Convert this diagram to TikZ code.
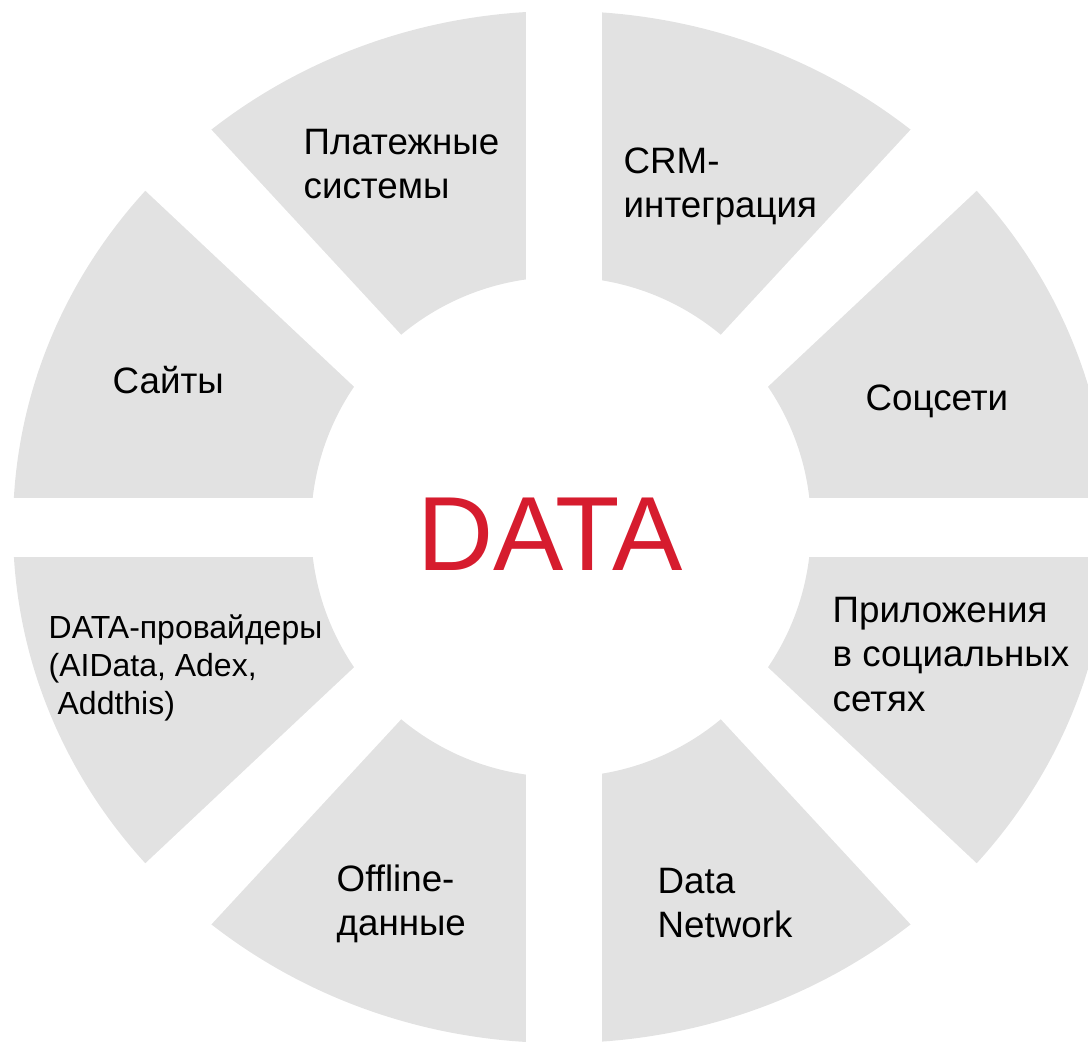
\documentclass[tikz,border=0pt]{standalone}
\usepackage{fontspec}
\setmainfont{Liberation Sans}
\definecolor{segfill}{RGB}{226,226,226}
\definecolor{datared}{RGB}{214,28,46}
\begin{document}
	\begin{tikzpicture}[line join=round, font=\fontsize{10.45}{12.7}\selectfont,
		lbl/.style={anchor=base west, align=left, inner sep=0pt}]
			\def\rin{2.5} \def\rx{5.48} \def\ry{5.16} % радиусы кольца
			\useasboundingbox (-5.61,-5.14) rectangle (5.27,5.27);
			\clip (-5.61,-5.14) rectangle (5.27,5.27);
			\fill[segfill, even odd rule] (0,0) ellipse [x radius=\rx, y radius=\ry] (0,0) circle [radius=\rin];
			\fill[white] (-0.35,-5.4) rectangle (0.405,5.4);%вертикальный зазор
			\fill[white] (-5.7,-0.30) rectangle (5.4,0.295);%горизонтальный зазор
			\foreach \sx/\sy in {1/1,-1/1,-1/-1,1/-1}{
				\fill[white] (\sx*1.06,\sy*1.34)--(\sx*3.91,\sy*4.42)--(\sx*4.60,\sy*3.78)--(\sx*1.49,\sy*0.86)--cycle;%диагонали
			}
			% подписи: точка = база последней строки
			\node[lbl] (pay) at (-2.58,3.283) {Платежные\\системы};
			\node[lbl] (crm) at (0.62,3.093) {CRM-\\интеграция};
			\node[lbl] (sites) at (-4.49,1.34) {Сайты};
			\node[lbl] (social) at (3.04,1.17) {Соцсети};
			\node[lbl] (apps) at (2.71,-1.844) {Приложения\\в социальных\\сетях};
			\node[lbl] (network) at (0.96,-4.107) {Data\\Network};
			\node[lbl] (offline) at (-2.25,-4.087) {Offline-\\данные};
			\node[lbl, font=\fontsize{9.1}{10.7}\selectfont] (providers) at (-5.13,-1.872) {DATA-провайдеры\\(AIData, Adex,\\\hspace*{.28em}Addthis)};
			\node[anchor=base, text=datared, font=\fontsize{30}{36}\selectfont] (data) at (-0.11,-0.43) {DATA};
	\end{tikzpicture}
\end{document}
